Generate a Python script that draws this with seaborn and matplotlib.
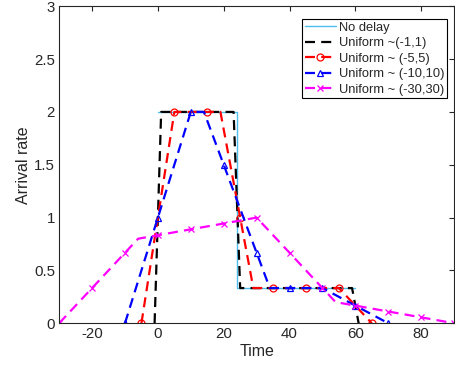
import matplotlib
matplotlib.use("Agg")
import matplotlib.pyplot as plt
import seaborn as sns

# ---- data ----
nodelay_x = [0, 24, 24, 60]
nodelay_y = [2, 2, 0.333, 0.333]

u1_x = [-1, 1, 23, 25, 59, 61]
u1_y = [0, 2, 2, 0.333, 0.333, 0]

u5_x = [-5, 5, 15, 19, 25, 29, 35, 45, 55, 65]
u5_y = [0, 2, 2, 2, 1.0, 0.333, 0.333, 0.333, 0.333, 0]
u5_marks = [0, 1, 2, 4, 6, 7, 8, 9]

u10_x = [-10, 0, 10, 14, 20, 30, 34, 40, 50, 60, 70]
u10_y = [0, 1.0, 2, 2, 1.5, 0.667, 0.333, 0.333, 0.333, 0.167, 0]
u10_marks = [0, 1, 2, 4, 5, 7, 8, 9, 10]

u30_x = [-30, -20, -10, -6, 0, 10, 20, 30, 40, 50, 54, 60, 70, 80, 90]
u30_y = [0, 0.333, 0.667, 0.8, 0.833, 0.889, 0.944, 1.0, 0.667, 0.333, 0.2, 0.167, 0.111, 0.056, 0]
u30_marks = [0, 1, 2, 4, 5, 6, 7, 8, 9, 11, 12, 13, 14]

xticks = [-20, 0, 20, 40, 60, 80]
yticks = [0, 0.5, 1, 1.5, 2, 2.5, 3]
ytick_labels = ["0", "0.5", "1", "1.5", "2", "2.5", "3"]

sns.set_style("white")
plt.rcParams["font.family"] = ["Liberation Sans", "DejaVu Sans"]
plt.rcParams["axes.unicode_minus"] = False

fig = plt.figure(figsize=(4.55, 3.69), dpi=100)
ax = fig.add_axes([0.130, 0.124, 0.868, 0.859])

common = dict(ax=ax, estimator=None, sort=False)
dash = (4.5, 2.8)

sns.lineplot(x=nodelay_x, y=nodelay_y, color="#4DBEEE", linewidth=1.0,
             label="No delay", **common)
sns.lineplot(x=u1_x, y=u1_y, color="black", linewidth=1.6, dashes=dash,
             label="Uniform ~(-1,1)", **common)
sns.lineplot(x=u5_x, y=u5_y, color="red", linewidth=1.6, dashes=dash,
             marker="o", markevery=u5_marks, markersize=5, markerfacecolor="none",
             markeredgecolor="red", markeredgewidth=0.9,
             label="Uniform ~ (-5,5)", **common)
sns.lineplot(x=u10_x, y=u10_y, color="blue", linewidth=1.6, dashes=dash,
             marker="^", markevery=u10_marks, markersize=5, markerfacecolor="none",
             markeredgecolor="blue", markeredgewidth=0.9,
             label="Uniform ~ (-10,10)", **common)
sns.lineplot(x=u30_x, y=u30_y, color="magenta", linewidth=1.6, dashes=dash,
             marker="x", markevery=u30_marks, markersize=5,
             markeredgecolor="magenta", markeredgewidth=0.9,
             label="Uniform ~ (-30,30)", **common)

ax.set_xlim(-30, 90)
ax.set_ylim(0, 3)
ax.set_xticks(xticks)
ax.set_yticks(yticks)
ax.set_yticklabels(ytick_labels)
ax.set_xlabel("Time", fontsize=11.5, color="#262626", labelpad=2)
ax.set_ylabel("Arrival rate", fontsize=11.5, color="#262626", labelpad=2)

for s in ax.spines.values():
    s.set_visible(True)
    s.set_color("#262626")
    s.set_linewidth(0.8)
ax.tick_params(direction="in", length=3.5, width=0.8, top=True, right=True,
               labelsize=10.8, colors="#262626", pad=3)

leg = ax.legend(loc="upper right", bbox_to_anchor=(0.982, 0.96), fontsize=9.3,
                frameon=True, fancybox=False, edgecolor="black", framealpha=1,
                borderpad=0.2, labelspacing=0.27, handlelength=2.4,
                handletextpad=0.25, borderaxespad=0)
leg.get_frame().set_linewidth(0.8)

fig.savefig("out.png", dpi=100)
